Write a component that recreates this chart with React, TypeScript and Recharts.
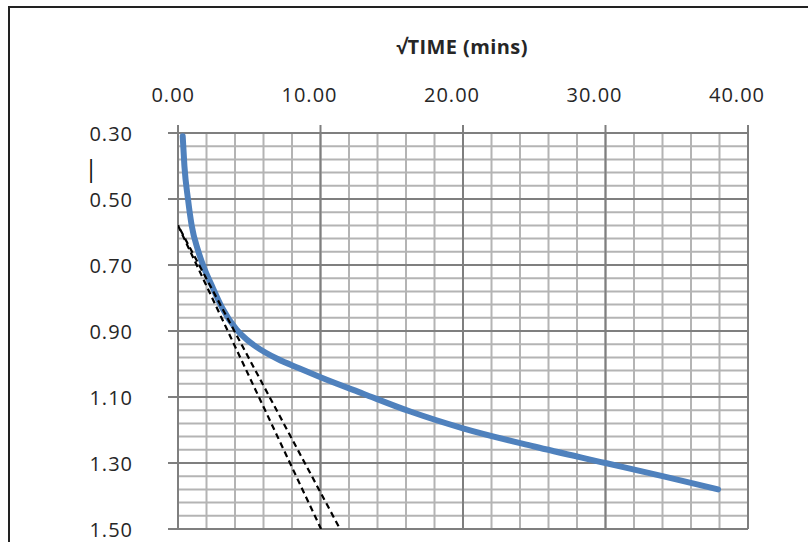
import { LineChart, Line, XAxis, YAxis, CartesianGrid, ReferenceLine, Label } from "recharts";

// √time (mins) vs reading
const ROOT_TIME = [0.33, 0.45, 0.7, 0.96, 1.4, 1.75, 2.4, 3.1, 4.1, 4.8, 5.5, 7, 8.5, 10, 13, 16.3, 20, 25, 30, 34, 37.9];
const READING = [0.31, 0.40, 0.50, 0.58, 0.655, 0.70, 0.765, 0.83, 0.895, 0.925, 0.948, 0.985, 1.013, 1.04, 1.09, 1.144, 1.195, 1.25, 1.30, 1.34, 1.38];

// the two dashed tangent lines
const TANGENT_A_X = [0, 10.04];
const TANGENT_A_Y = [0.58, 1.5];
const TANGENT_B_X = [0, 11.37];
const TANGENT_B_Y = [0.58, 1.5];

const X_TICKS = [0, 2, 4, 6, 8, 10, 12, 14, 16, 18, 20, 22, 24, 26, 28, 30, 32, 34, 36, 38, 40];
const X_MAJOR = [0, 10, 20, 30, 40];
const Y_TICKS = [0.3, 0.34, 0.38, 0.42, 0.46, 0.5, 0.54, 0.58, 0.62, 0.66, 0.7, 0.74, 0.78, 0.82, 0.86, 0.9,
    0.94, 0.98, 1.02, 1.06, 1.1, 1.14, 1.18, 1.22, 1.26, 1.3, 1.34, 1.38, 1.42, 1.46, 1.5];
const Y_MAJOR = [0.3, 0.5, 0.7, 0.9, 1.1, 1.3, 1.5];

const toPoints = (xs: number[], ys: number[]) => xs.map((x, i) => ({ x, y: ys[i] }));

const curveData = toPoints(ROOT_TIME, READING);
const tangentA = toPoints(TANGENT_A_X, TANGENT_A_Y);
const tangentB = toPoints(TANGENT_B_X, TANGENT_B_Y);

const FONT = "'Open Sans', 'Liberation Sans', sans-serif";
const TEXT = "#262626";
const MAJOR = "#7f7f7f";
const MINOR = "#b4b4b4";

const isMajor = (v: number, list: number[]) => list.some((m) => Math.abs(m - v) < 1e-6);

const XTick = (props: any) => {
    const { x, y, payload } = props;
    if (!isMajor(payload.value, X_MAJOR)) return null;
    return (
        <g>
            <line x1={x} x2={x} y1={y - 8} y2={y} stroke={MAJOR} strokeWidth={2} />
            <text x={x + 17} y={y - 31} textAnchor="end" fill={TEXT} fontFamily={FONT} fontSize={20} letterSpacing={1}>
                {payload.value.toFixed(2)}
            </text>
        </g>
    );
};

const YTick = (props: any) => {
    const { x, y, payload } = props;
    if (!isMajor(payload.value, Y_MAJOR)) return null;
    return (
        <g>
            <line x1={x - 10} x2={x} y1={y} y2={y} stroke={MAJOR} strokeWidth={2} />
            <text x={x - 45} y={y + 8} textAnchor="end" fill={TEXT} fontFamily={FONT} fontSize={20} letterSpacing={1}>
                {payload.value.toFixed(2)}
            </text>
        </g>
    );
};

export default function App() {
    return (
        <div style={{ position: "fixed", left: 0, top: 0, width: 808, height: 542, overflow: "hidden", background: "#fff" }}>
            <div
                style={{
                    position: "absolute",
                    left: 8,
                    top: 6,
                    width: 900,
                    height: 700,
                    border: "2px solid #222",
                    boxSizing: "border-box",
                }}
            />
            <div style={{ position: "absolute", left: 0, top: 0 }}>
                <LineChart width={808} height={542} margin={{ top: 93, right: 60, bottom: 13, left: 118 }}>
                    <CartesianGrid stroke={MINOR} strokeWidth={2} />
                    {X_MAJOR.map((v) => (
                        <ReferenceLine key={`vx-${v}`} x={v} stroke={MAJOR} strokeWidth={2} />
                    ))}
                    {Y_MAJOR.map((v) => (
                        <ReferenceLine key={`hy-${v}`} y={v} stroke={MAJOR} strokeWidth={2} />
                    ))}
                    <XAxis
                        dataKey="x"
                        type="number"
                        orientation="top"
                        domain={[0, 40]}
                        ticks={X_TICKS}
                        interval={0}
                        height={40}
                        axisLine={false}
                        tickLine={false}
                        tickSize={0}
                        tickMargin={0}
                        tick={<XTick />}
                        allowDataOverflow
                    >
                        <Label
                            content={() => (
                                <text x={462} y={54} textAnchor="middle" fill={TEXT} fontFamily={FONT} fontSize={20} fontWeight={700} letterSpacing={0.4}>
                                    √TIME (mins)
                                </text>
                            )}
                        />
                    </XAxis>
                    <YAxis
                        type="number"
                        reversed
                        domain={[0.3, 1.5]}
                        ticks={Y_TICKS}
                        interval={0}
                        width={60}
                        axisLine={false}
                        tickLine={false}
                        tickSize={0}
                        tickMargin={0}
                        tick={<YTick />}
                        allowDataOverflow
                    >
                        <Label
                            content={() => (
                                <text x={91} y={177} textAnchor="middle" fill="#111" fontFamily={FONT} fontSize={24}>
                                    |
                                </text>
                            )}
                        />
                    </YAxis>
                    <Line
                        data={curveData}
                        dataKey="y"
                        type="monotone"
                        stroke="#4f81bd"
                        strokeWidth={6}
                        strokeLinecap="round"
                        dot={false}
                        activeDot={false}
                        isAnimationActive={false}
                    />
                    <Line
                        data={tangentA}
                        dataKey="y"
                        type="linear"
                        stroke="#000"
                        strokeWidth={2.2}
                        strokeDasharray="6 4"
                        dot={false}
                        activeDot={false}
                        isAnimationActive={false}
                    />
                    <Line
                        data={tangentB}
                        dataKey="y"
                        type="linear"
                        stroke="#000"
                        strokeWidth={2.2}
                        strokeDasharray="6 4"
                        strokeDashoffset={5}
                        dot={false}
                        activeDot={false}
                        isAnimationActive={false}
                    />
                </LineChart>
            </div>
        </div>
    );
}
